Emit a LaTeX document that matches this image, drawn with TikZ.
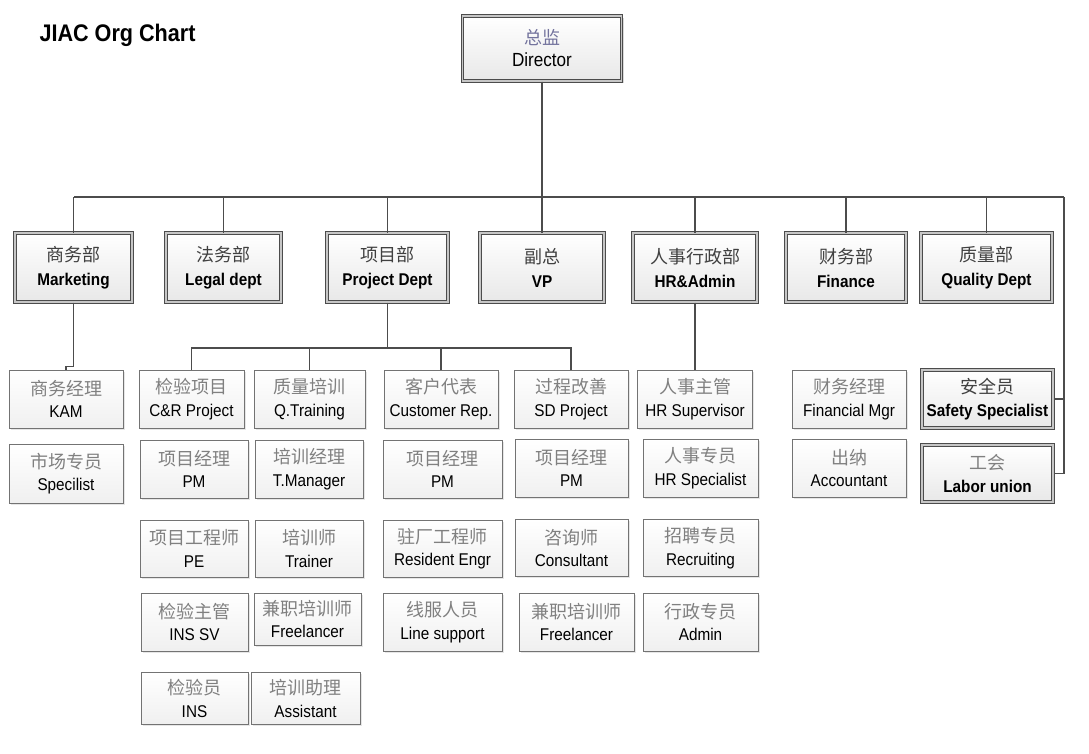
\documentclass[tikz,border=0pt]{standalone}
\usepackage{fontspec}
\setmainfont{Liberation Sans}[FakeStretch=0.9]
\newfontfamily\cjk{Noto Sans CJK SC}
\usetikzlibrary{shadows,calc}
\colorlet{hz}{black!50}
\newcommand{\hanzi}[1]{{\cjk\mdseries\fontsize{18}{20}\selectfont\color{hz}#1}}
\tikzset{
  link/.style={draw=black!70, line width=1.2pt},
  box/.style={align=center, inner sep=1pt},
  head/.style={box, draw=black!70, line width=1pt, double=gray!45, double distance=1.3pt,
    top color=white, bottom color=gray!18,
    drop shadow={opacity=0.3, shadow xshift=2pt, shadow yshift=-2pt},
    execute at begin node={\colorlet{hz}{black!75}}},
  dept/.style={head, minimum height=69, font=\bfseries\fontsize{17}{24}\selectfont},
  staff/.style={head, minimum height=58, font=\bfseries\fontsize{17}{22.5}\selectfont},
  role/.style={box, draw=black!55, line width=0.9pt, top color=white, bottom color=gray!12,
    drop shadow={opacity=0.2, shadow xshift=1.5pt, shadow yshift=-1.5pt},
    minimum height=58, font=\fontsize{17}{22.5}\selectfont}
}
\begin{document}
\begin{tikzpicture}[x=1pt, y=-1pt]
\useasboundingbox (0,0) rectangle (1089,753);
\node[anchor=west, font=\bfseries\fontsize{24}{27}\selectfont] (title) at (36,35) {JIAC Org Chart};

% director
\node[head, minimum width=159, minimum height=65, font=\fontsize{19}{22}\selectfont,
  execute at begin node={\colorlet{hz}{blue!30!black!55}}] (dir) at (542,48.5) {\hanzi{总监}\\Director};

% departments
\node[dept, minimum width=117] (mkt) at (73.5,267.5) {\hanzi{商务部}\\Marketing};
\node[dept, minimum width=115] (legal) at (223.5,267.5) {\hanzi{法务部}\\Legal dept};
\node[dept, minimum width=121] (proj) at (387.5,267.5) {\hanzi{项目部}\\Project Dept};
\node[dept, minimum width=124] (vp) at (542,267.5) {\hanzi{副总}\\VP};
\node[dept, minimum width=124] (hr) at (695,267.5) {\hanzi{人事行政部}\\HR\&Admin};
\node[dept, minimum width=120] (fin) at (846,267.5) {\hanzi{财务部}\\Finance};
\node[dept, minimum width=131] (qual) at (986.5,267.5) {\hanzi{质量部}\\Quality Dept};

% marketing
\node[role, minimum width=114] (kam) at (66,399) {\hanzi{商务经理}\\KAM};
\node[role, minimum width=114, minimum height=59] (spec) at (66,473.5) {\hanzi{市场专员}\\Specilist};

% project dept
\node[role, minimum width=105] (cr) at (191.5,399) {\hanzi{检验项目}\\C\&R Project};
\node[role, minimum width=108] (pm1) at (194,469) {\hanzi{项目经理}\\PM};
\node[role, minimum width=108, minimum height=57] (pe) at (194,548.5) {\hanzi{项目工程师}\\PE};
\node[role, minimum width=107] (inssv) at (194.5,622) {\hanzi{检验主管}\\INS SV};
\node[role, minimum width=107, minimum height=52] (ins) at (194.5,698.5) {\hanzi{检验员}\\INS};

\node[role, minimum width=111] (qt) at (309.5,399) {\hanzi{质量培训}\\Q.Training};
\node[role, minimum width=108] (tm) at (309,469) {\hanzi{培训经理}\\T.Manager};
\node[role, minimum width=108, minimum height=57] (trainer) at (309,548.5) {\hanzi{培训师}\\Trainer};
\node[role, minimum width=107, minimum height=52] (free1) at (307.5,619) {\hanzi{兼职培训师}\\Freelancer};
\node[role, minimum width=109, minimum height=52] (asst) at (305.5,698.5) {\hanzi{培训助理}\\Assistant};

\node[role, minimum width=114] (cust) at (441,399) {\hanzi{客户代表}\\Customer Rep.};
\node[role, minimum width=119] (pm2) at (442.5,469) {\hanzi{项目经理}\\PM};
\node[role, minimum width=119, minimum height=57] (resi) at (442.5,548.5) {\hanzi{驻厂工程师}\\Resident Engr};
\node[role, minimum width=119] (line) at (442.5,622) {\hanzi{线服人员}\\Line support};

\node[role, minimum width=114] (sd) at (571,399) {\hanzi{过程改善}\\SD Project};
\node[role, minimum width=113] (pm3) at (571.5,468) {\hanzi{项目经理}\\PM};
\node[role, minimum width=113, minimum height=57] (cons) at (571.5,548) {\hanzi{咨询师}\\Consultant};
\node[role, minimum width=115] (free2) at (576.5,622) {\hanzi{兼职培训师}\\Freelancer};

% hr
\node[role, minimum width=115] (hrsup) at (695,399) {\hanzi{人事主管}\\HR Supervisor};
\node[role, minimum width=115] (hrspec) at (700.5,468) {\hanzi{人事专员}\\HR Specialist};
\node[role, minimum width=115, minimum height=57] (recr) at (700.5,548) {\hanzi{招聘专员}\\Recruiting};
\node[role, minimum width=115] (admin) at (700.5,622) {\hanzi{行政专员}\\Admin};

% finance
\node[role, minimum width=114] (fmgr) at (849,399) {\hanzi{财务经理}\\Financial Mgr};
\node[role, minimum width=114] (acct) at (849,468) {\hanzi{出纳}\\Accountant};

% quality
\node[staff, minimum width=131] (safety) at (987.5,399) {\hanzi{安全员}\\Safety Specialist};
\node[staff, minimum width=131, minimum height=57,
  execute at begin node={\colorlet{hz}{black!50}}] (labor) at (987.5,473.5) {\hanzi{工会}\\Labor union};

% connectors
\coordinate (busL) at (74,197);
\coordinate (busR) at (1064,197);
\draw[link] (busL) -- (busR);
\draw[link] (dir.south) -- (dir.south |- busL);
\foreach \d in {mkt,legal,proj,vp,hr,fin,qual}
  \draw[link] (\d.north) -- (\d.north |- busL);
\draw[link] (busR) |- (safety.east);
\draw[link] (busR) |- (labor.east);

\draw[link] (mkt.south) -- ++(0,64) -| (kam.north);

\coordinate (pbus) at (387.5,348);
\draw[link] (proj.south) -- (pbus);
\draw[link] (cr.north) |- (pbus) -| (sd.north);
\draw[link] (qt.north) -- (qt.north |- pbus);
\draw[link] (cust.north) -- (cust.north |- pbus);

\draw[link] (hr.south) -- (hrsup.north);
\end{tikzpicture}
\end{document}
